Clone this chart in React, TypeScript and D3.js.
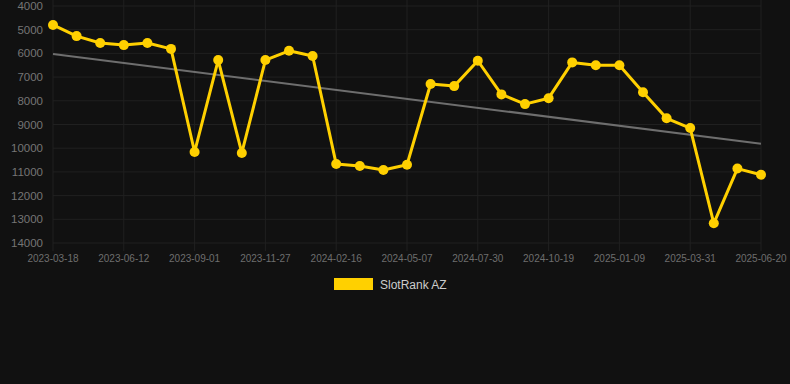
import React from "react";
import * as d3 from "d3";

const dates = [
  "2023-03-18", "2023-04-15", "2023-05-14", "2023-06-12", "2023-07-09", "2023-08-05",
  "2023-09-01", "2023-09-30", "2023-10-29", "2023-11-27", "2023-12-24", "2024-01-20",
  "2024-02-16", "2024-03-15", "2024-04-11", "2024-05-07", "2024-06-03", "2024-07-02",
  "2024-07-30", "2024-08-26", "2024-09-22", "2024-10-19", "2024-11-15", "2024-12-13",
  "2025-01-09", "2025-02-05", "2025-03-04", "2025-03-31", "2025-04-27", "2025-05-24",
  "2025-06-20",
];
const ranks = [
  4800, 5270, 5560, 5650, 5560, 5810,
  10160, 6280, 10200, 6280, 5890, 6110,
  10670, 10750, 10920, 10700, 7290, 7380,
  6310, 7730, 8140, 7890, 6380, 6500,
  6500, 7640, 8740, 9150, 13170, 10860,
  11120,
];
const yTicks = [4000, 5000, 6000, 7000, 8000, 9000, 10000, 11000, 12000, 13000, 14000];
const seriesName = "SlotRank AZ";

const W = 790, H = 384;
const M = { left: 53, right: 761, top: 6, bottom: 243 };

export default function App() {
  const x = d3.scalePoint<string>().domain(dates).range([M.left, M.right]);
  const y = d3.scaleLinear().domain([4000, 14000]).range([M.top, M.bottom]);

  const n = ranks.length;
  const idx = d3.range(n);
  const mx = d3.mean(idx)!;
  const my = d3.mean(ranks)!;
  const slope = d3.sum(idx, (i) => (i - mx) * (ranks[i] - my)) / d3.sum(idx, (i) => (i - mx) ** 2);
  const icpt = my - slope * mx;

  const line = d3.line<number>().x((_, i) => x(dates[i])!).y((d) => y(d));
  const labelIdx = idx.filter((i) => i % 3 === 0);

  return (
    <svg width={W} height={H} style={{ position: "fixed", left: 0, top: 0, background: "#111111" }}
      fontFamily="'Liberation Sans', Arial, sans-serif">
      <rect width={W} height={H} fill="#111111" />
      {yTicks.map((t) => (
        <g key={t}>
          <line x1={M.left} x2={M.right} y1={y(t)} y2={y(t)} stroke="#202020" strokeWidth={1} />
          <text x={43} y={y(t)} dy="0.35em" textAnchor="end" fill="#757575" fontSize={11.5}>{t}</text>
        </g>
      ))}
      {labelIdx.map((i) => (
        <g key={dates[i]}>
          <line x1={x(dates[i])} x2={x(dates[i])} y1={0} y2={M.bottom + 8} stroke="#202020" strokeWidth={1} />
          <text x={x(dates[i])} y={262} textAnchor="middle" fill="#6e6e6e" fontSize={10}>{dates[i]}</text>
        </g>
      ))}
      <line x1={x(dates[0])} x2={x(dates[n - 1])} y1={y(icpt)} y2={y(icpt + slope * (n - 1))}
        stroke="#6e6e6e" strokeWidth={2} />
      <path d={line(ranks)!} fill="none" stroke="#FFD000" strokeWidth={3} strokeLinejoin="round" />
      {ranks.map((v, i) => (
        <circle key={i} cx={x(dates[i])} cy={y(v)} r={5} fill="#FFD000" />
      ))}
      <rect x={334} y={278} width={39} height={12} fill="#FFD000" />
      <text x={380} y={288.5} fill="#cccccc" fontSize={12}>{seriesName}</text>
    </svg>
  );
}
